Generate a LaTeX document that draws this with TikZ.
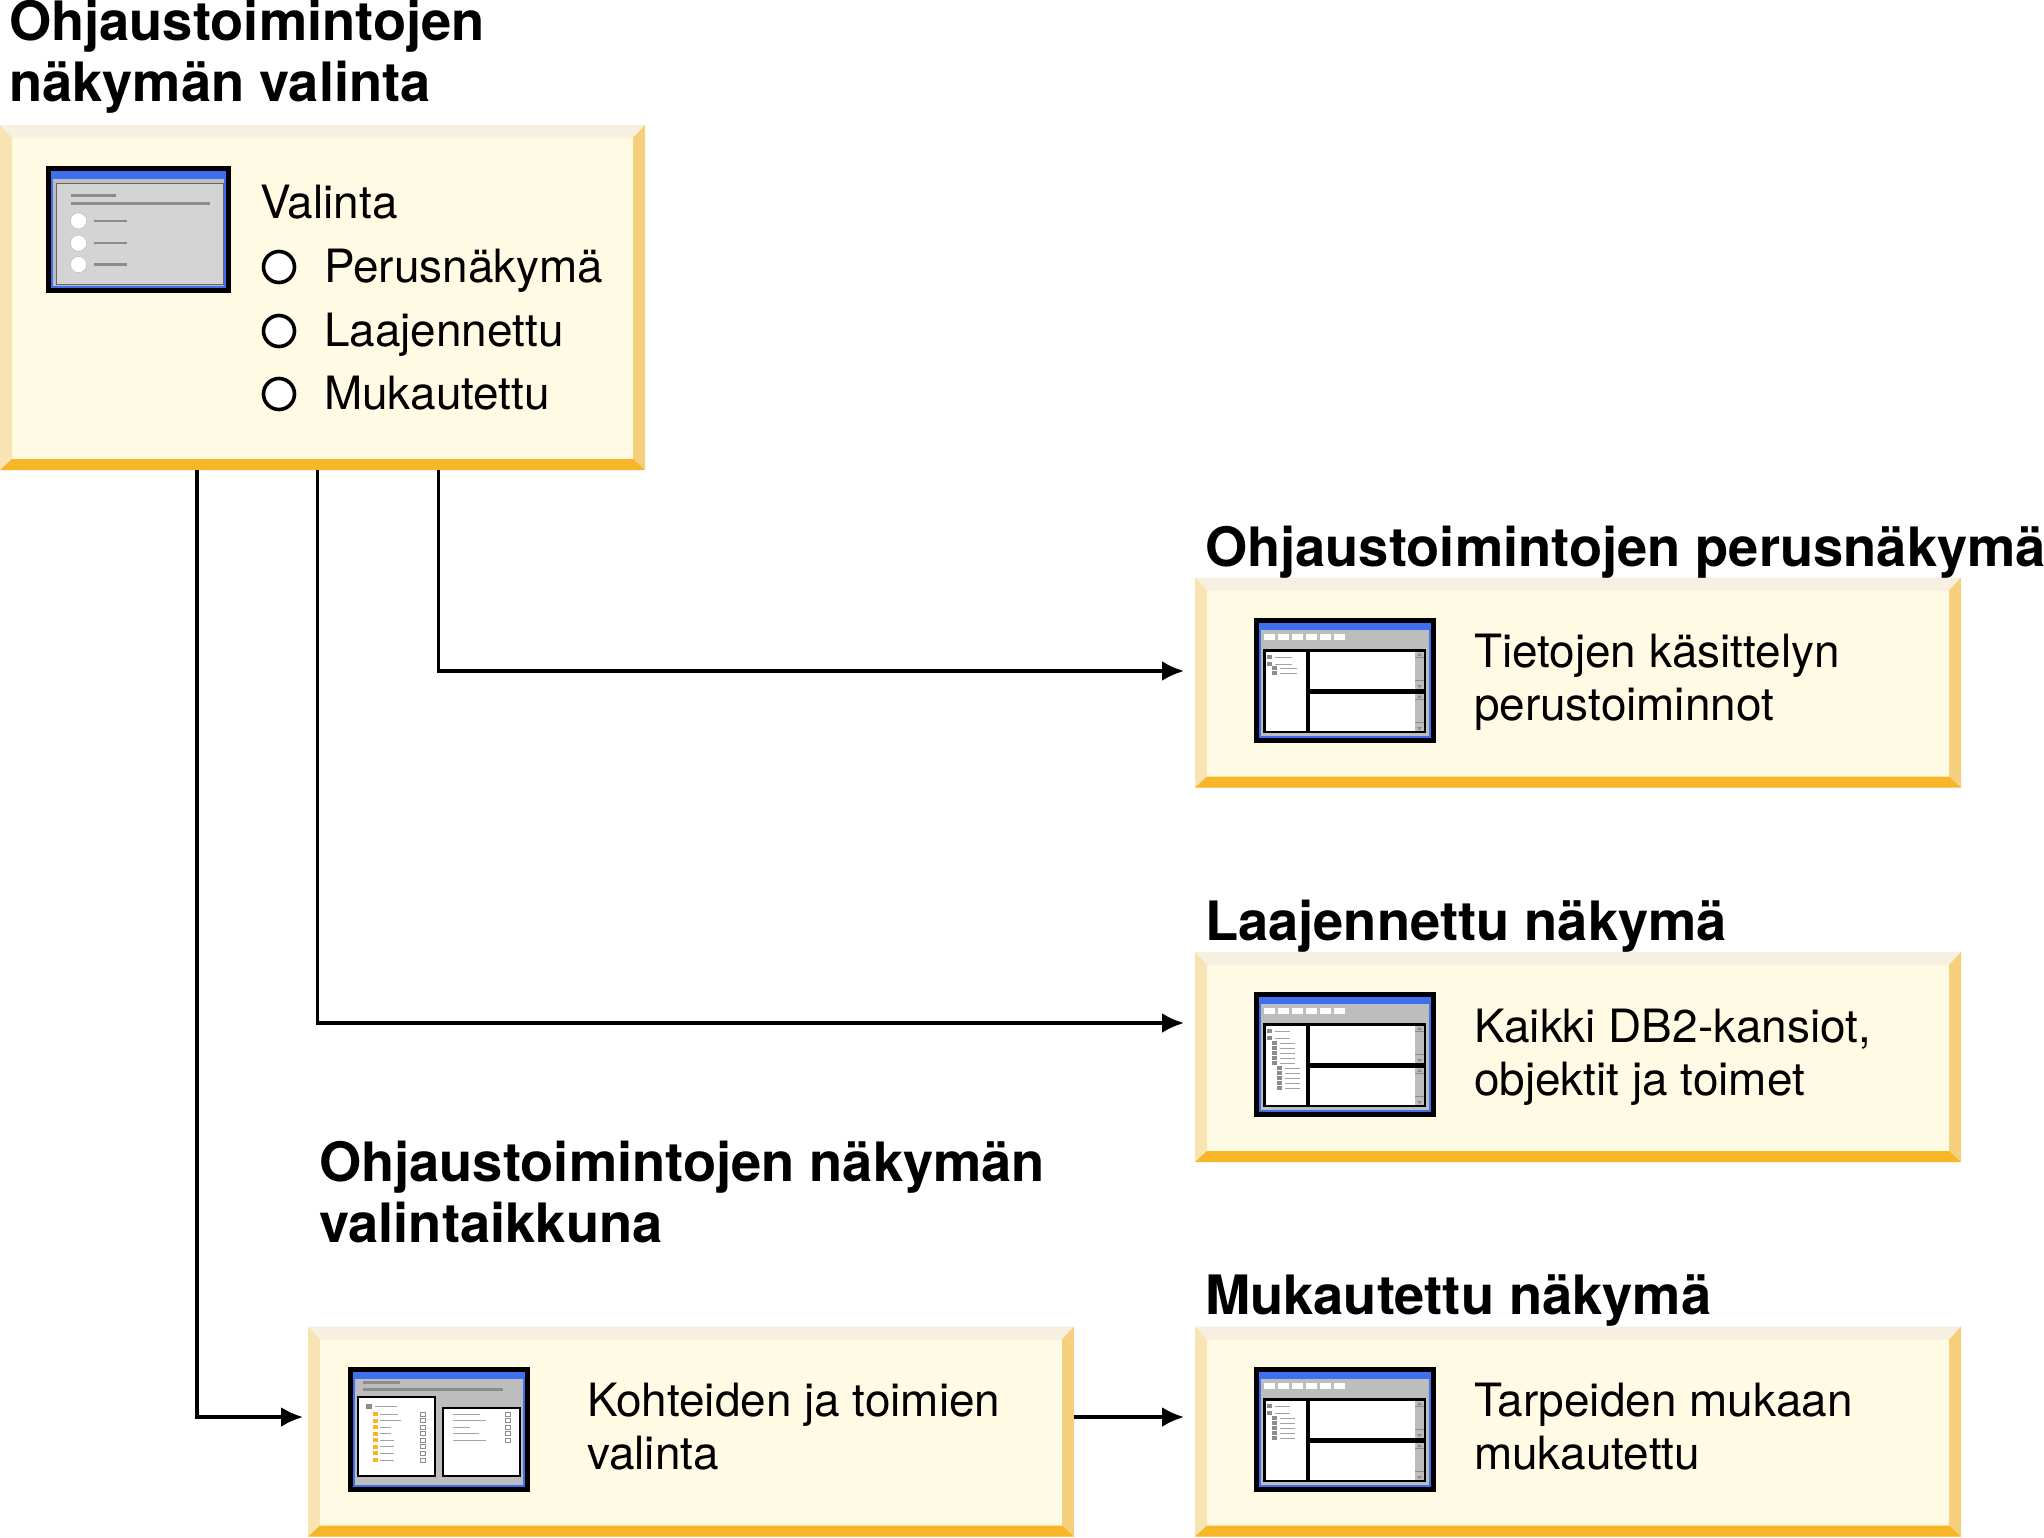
\documentclass[tikz,border=0pt]{standalone}
\usepackage{fontspec}
\setmainfont{TeX Gyre Heros}
\usetikzlibrary{arrows.meta}

\definecolor{panelfill}{HTML}{FFFAE4}
\definecolor{paneltop}{HTML}{F7EFDF}
\definecolor{panelleft}{HTML}{F8E3B3}
\definecolor{panelright}{HTML}{F6CF7C}
\definecolor{panelbottom}{HTML}{F7B627}
\definecolor{winblue}{HTML}{3E6FEE}
\definecolor{wingray}{HTML}{BDBDBD}
\definecolor{winline}{HTML}{8C8C8C}

\tikzset{
    panel/.style={inner sep=0pt, outer sep=0pt, fill=panelfill,
        path picture={
            \path (path picture bounding box.north west) coordinate (nw)
                  (path picture bounding box.north east) coordinate (ne)
                  (path picture bounding box.south west) coordinate (sw)
                  (path picture bounding box.south east) coordinate (se);
            \fill[paneltop] (nw) -- (ne) -- ([shift={(-12,13)}]ne) -- ([shift={(12,13)}]nw) -- cycle;
            \fill[panelleft] (nw) -- (sw) -- ([shift={(12,-11)}]sw) -- ([shift={(12,13)}]nw) -- cycle;
            \fill[panelright] (ne) -- (se) -- ([shift={(-12,-11)}]se) -- ([shift={(-12,13)}]ne) -- cycle;
            \fill[panelbottom] (sw) -- (se) -- ([shift={(-12,-11)}]se) -- ([shift={(12,-11)}]sw) -- cycle;
        }},
    widepanel/.style={panel, minimum width=383pt, minimum height=105pt},
    heading/.style={anchor=base west, align=left, font=\fontsize{27.15}{30.5}\selectfont\bfseries},
    body/.style={anchor=base west, align=left, font=\fontsize{22.95}{26.5}\selectfont},
    radio/.style={circle, draw=black, fill=white, line width=1.8pt, inner sep=0pt, minimum size=15.5pt},
    link/.style={line width=1.7pt, -{Latex[length=11pt,width=10pt]}},
    treeline/.style={winline!80, line width=0.5pt},
    % window with blue title bar
    pics/winframe/.style={code={
        \fill[black] (0,0) rectangle (182,125);
        \fill[winblue] (5,5) rectangle (177,120);
        \fill[wingray] (7,12) rectangle (175,118);
    }},
    % three panes and the toolbar
    pics/winpanes/.style={code={
        \pic {winframe};
        \foreach \i in {0,...,5}
            \fill[white] (10+14*\i,16) rectangle (21+14*\i,22);
        \fill[black] (9,31) rectangle (172,115);
        \fill[white] (12,34) rectangle (52,113);
        \foreach \y in {34,76} {
            \fill[white] (56,\y) rectangle (161,\y+37);
            \fill[wingray] (161,\y) rectangle (170,\y+37);
            \fill[winline] (163,\y+4) -- (168,\y+4) -- (165.5,\y+1) -- cycle;
            \fill[winline] (163,\y+33) -- (168,\y+33) -- (165.5,\y+36) -- cycle;
            \draw[winline, line width=0.4pt] (161,\y+5) -- (170,\y+5);
            \draw[winline, line width=0.4pt] (161,\y+28) -- (170,\y+28);
        }
    }},
}

\begin{document}
\begin{tikzpicture}[x=0.5pt, y=-0.5pt]
    \useasboundingbox (0,0) rectangle (2044,1537);

    % Panels
    \node[panel, minimum width=322.5pt, minimum height=172.5pt] (valinta) at (322.5,297.5) {};
    \node[widepanel] (perus) at (1578,682.5) {};
    \node[widepanel] (laaj) at (1578,1057) {};
    \node[widepanel] (muk) at (1578,1431.5) {};
    \node[widepanel] (ikkuna) at (691,1431.5) {};

    % Headings
    \node[heading] (hvalinta) at (2,101) {Ohjaustoimintojen\\näkymän valinta};
    \node[heading] (hperus) at (1198,566) {Ohjaustoimintojen perusnäkymä};
    \node[heading] (hlaaj) at (1198,940) {Laajennettu näkymä};
    \node[heading] (hmuk) at (1198,1314) {Mukautettu näkymä};
    \node[heading] (hikkuna) at (312,1242) {Ohjaustoimintojen näkymän\\valintaikkuna};

    % Selection list
    \node[body] (tvalinta) at (253,218) {Valinta};
    \node[radio] (r1) at (279,267) {};
    \node[radio] (r2) at (279,331) {};
    \node[radio] (r3) at (279,394) {};
    \node[body] (t1) at (317,282) {Perusnäkymä};
    \node[body] (t2) at (317,346) {Laajennettu};
    \node[body] (t3) at (317,409) {Mukautettu};

    % Panel texts
    \node[body] (tperus) at (1467,720) {Tietojen käsittelyn\\perustoiminnot};
    \node[body] (tlaaj) at (1467,1095) {Kaikki DB2-kansiot,\\objektit ja toimet};
    \node[body] (tmuk) at (1467,1469) {Tarpeiden mukaan\\mukautettu};
    \node[body] (tikkuna) at (580,1469) {Kohteiden ja toimien\\valinta};

    % Selection icon
    \begin{scope}[shift={(46,166)}, xscale=1.016, yscale=1.016]
        \pic[transform shape] {winframe};
        \fill[winblue] (5,5) rectangle (177,13);
        \filldraw[fill=black!17, draw=black!60, line width=0.5pt] (10,17) rectangle (175,117);
        \draw[winline, line width=1.2pt] (25,29) -- (69,29);
        \draw[winline, line width=1.2pt] (25,37) -- (161,37);
        \foreach \y in {54,76,97} {
            \filldraw[fill=white, draw=black!25, line width=0.3pt] (32,\y) circle (4pt);
            \draw[winline, line width=1.2pt] (47,\y) -- (80,\y);
        }
    \end{scope}

    % Basic view icon
    \begin{scope}[shift={(1254,618)}]
        \pic {winpanes};
        \foreach \y/\x in {37/13,44/13,48/18,53/18} {
            \fill[winline] (\x,\y) rectangle (\x+5,\y+4);
            \draw[treeline] (\x+8,\y+2) -- (\x+25,\y+2);
        }
    \end{scope}

    % Advanced view icon
    \begin{scope}[shift={(1254,992)}]
        \pic {winpanes};
        \foreach \y/\x in {37/13,44/13,49/18,54/18,59/18,64/18,69/18,74/23,79/23,84/23,89/23,94/23} {
            \fill[winline] (\x,\y) rectangle (\x+5,\y+4);
            \draw[treeline] (\x+8,\y+2) -- (\x+23,\y+2);
        }
    \end{scope}

    % Custom view icon
    \begin{scope}[shift={(1254,1367)}]
        \pic {winpanes};
        \foreach \y/\x in {37/13,44/13,49/18,54/18,59/18,64/18,69/18} {
            \fill[winline] (\x,\y) rectangle (\x+5,\y+4);
            \draw[treeline] (\x+8,\y+2) -- (\x+23,\y+2);
        }
    \end{scope}

    % Dialog icon
    \begin{scope}[shift={(348,1367)}]
        \pic {winframe};
        \fill[winline] (15,14) rectangle (52,17);
        \fill[winline] (15,21) rectangle (155,24);
        \filldraw[fill=white, draw=black, line width=1pt] (10,30) rectangle (87,109);
        \filldraw[fill=white, draw=black, line width=1pt] (95,41) rectangle (172,109);
        \fill[winline] (18,37) rectangle (24,42);
        \draw[treeline] (27,39.5) -- (49,39.5);
        \foreach \i/\e in {0/50,1/53,2/43,3/43,4/46,5/46,6/46,7/46} {
            \fill[panelbottom] (25,45+6.57*\i) rectangle (30,49+6.57*\i);
            \draw[treeline] (32,47+6.57*\i) -- (\e,47+6.57*\i);
            \draw[winline, line width=0.4pt] (72,45+6.57*\i) rectangle (77,49+6.57*\i);
        }
        \foreach \i/\e in {0/132,1/138,2/122,3/131,4/138} {
            \draw[treeline] (105,47+6.57*\i) -- (\e,47+6.57*\i);
            \draw[winline, line width=0.4pt] (157,45+6.57*\i) rectangle (162,49+6.57*\i);
        }
    \end{scope}

    % Connectors
    \coordinate (perusalku) at (438.5,470);
    \coordinate (laajalku) at (317.5,470);
    \coordinate (ikkunaalku) at (197,470);
    \coordinate (perusloppu) at (1184,671);
    \coordinate (laajloppu) at (1184,1023);
    \coordinate (ikkunaloppu) at (303,1417);
    \coordinate (mukloppu) at (1184,1417);
    \draw[link] (perusalku) |- (perusloppu);
    \draw[link] (laajalku) |- (laajloppu);
    \draw[link] (ikkunaalku) |- (ikkunaloppu);
    \draw[link] (ikkuna.east |- mukloppu) -- (mukloppu);
\end{tikzpicture}
\end{document}
